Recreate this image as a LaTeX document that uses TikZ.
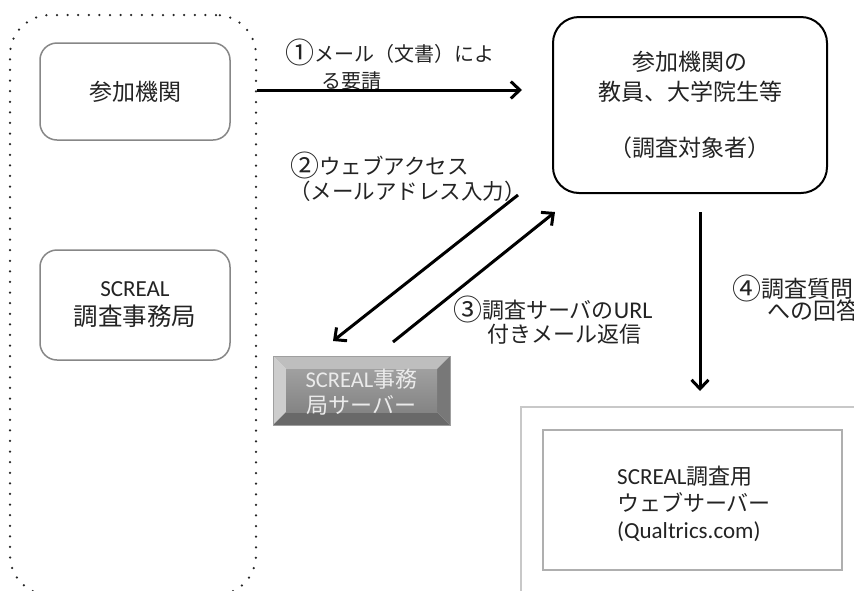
\documentclass[tikz,border=0pt]{standalone}
\usepackage{fontspec}
\setmainfont{Noto Sans CJK JP}
\newfontfamily\latf{Carlito}
\usetikzlibrary{arrows.meta}
\definecolor{txt}{RGB}{35,35,35}
\definecolor{boxgray}{RGB}{135,135,135}
\definecolor{webouter}{RGB}{200,200,200}
\definecolor{webinner}{RGB}{175,175,175}
\definecolor{bvtop}{RGB}{190,190,190}
\definecolor{bvleft}{RGB}{205,205,205}
\definecolor{bvright}{RGB}{120,120,120}
\definecolor{bvbot}{RGB}{105,105,105}
\definecolor{facetop}{RGB}{160,160,160}
\definecolor{facebot}{RGB}{132,132,132}
\newcommand\cnum[1]{\raisebox{-1.5pt}{\fontsize{29}{29}\selectfont #1}}
\tikzset{
  grpbox/.style={draw=black!85, line width=2.5pt, dash pattern=on 0pt off 10.6pt, line cap=round, rounded corners=40pt},
  orgbox/.style={draw=boxgray, line width=1.5pt, rounded corners=17pt, text=txt, align=center,
     font=\fontsize{23}{29}\selectfont},
  tgtbox/.style={draw=black, line width=2pt, rounded corners=26pt, text=txt, align=center,
     font=\fontsize{23}{30}\selectfont},
  lbl/.style={text=txt, anchor=west, inner sep=0pt, font=\fontsize{20.5}{25}\selectfont},
  arr/.style={line width=3pt, -{Straight Barb[length=9pt,width=17pt,line width=3pt]}},
}
\begin{document}
\begin{tikzpicture}[x=1pt,y=-1pt]
\useasboundingbox (0,0) rectangle (854,590);
\fill[white] (0,0) rectangle (854,590);

% dotted group
\node[grpbox, minimum width=246pt, minimum height=580pt] (grp) at (133,305) {};

% left boxes
\node[orgbox, minimum width=190pt, minimum height=97pt] (inst) at (135,91.5) {参加機関};
\node[orgbox, minimum width=190pt, minimum height=110pt, font=\fontsize{24.5}{29}\selectfont] (sec) at (135,305)
  {{\latf\fontsize{23}{29}\selectfont SCREAL}\\調査事務局};

% target box
\node[tgtbox, minimum width=274pt, minimum height=176pt] (tgt) at (690,105)
  {参加機関の\\教員、大学院生等\\[26pt]（調査対象者）};

% bevel server box
\fill[bvtop] (273,356) -- (450,356) -- (437,369) -- (286,369) -- cycle;
\fill[bvleft] (273,356) -- (286,369) -- (286,412) -- (273,425) -- cycle;
\fill[bvright] (450,356) -- (450,425) -- (437,412) -- (437,369) -- cycle;
\fill[bvbot] (273,425) -- (286,412) -- (437,412) -- (450,425) -- cycle;
\shade[top color=facetop, bottom color=facebot] (286,369) rectangle (437,412);
\draw[gray!75, line width=0.6pt] (273,356) rectangle (450,425);
\node[text=white!92!black, align=center, font=\fontsize{22}{26}\selectfont,
      minimum width=177pt, minimum height=69pt] (srv) at (361.5,392)
  {{\latf\fontsize{22.5}{26}\selectfont SCREAL}事務\\局サーバー};

% web server boxes
\draw[webouter, line width=1.5pt] (880,407) -- (521,407) -- (521,610);
\node[draw=webinner, line width=2pt, minimum width=299pt, minimum height=140pt] (web) at (692.5,500) {};
\node[text=txt, align=left, anchor=west, inner sep=0pt, font=\fontsize{22}{27}\selectfont] (webtxt) at (617,504)
  {{\latf\fontsize{23}{27}\selectfont SCREAL}調査用\\ウェブサーバー\\{\latf\fontsize{23}{31}\selectfont (Qualtrics.com)}};

% labels
\node[lbl, font=\fontsize{20}{25}\selectfont] (l1a) at (285,52) {\cnum{①}メール（文書）によ};
\node[lbl, font=\fontsize{20}{25}\selectfont] (l1b) at (321,81) {る要請};
\node[lbl, font=\fontsize{21.5}{25}\selectfont] (l2a) at (290,165) {\cnum{②}ウェブアクセス};
\node[lbl, font=\fontsize{21.5}{25}\selectfont] (l2b) at (289,191) {（メールアドレス入力）};
\node[lbl, font=\fontsize{22}{25}\selectfont] (l3a) at (453,309) {\cnum{③}調査サーバの{\latf\fontsize{24}{25}\selectfont URL}};
\node[lbl, font=\fontsize{22}{25}\selectfont] (l3b) at (487,334) {付きメール返信};
\node[lbl, font=\fontsize{23}{25}\selectfont] (l4a) at (732,288) {\cnum{④}調査質問};
\node[lbl, font=\fontsize{23}{25}\selectfont] (l4b) at (767,311) {への回答};

% connectors
\coordinate (a1s) at (grp.east |- 0,90);
\coordinate (a1e) at (522,90);
\draw[arr] (a1s) -- (a1e);
\coordinate (a2s) at (518,195);
\coordinate (a2e) at (333,341);
\draw[arr] (a2s) -- (a2e);
\coordinate (a3s) at (393,342);
\coordinate (a3e) at (555,212);
\draw[arr] (a3s) -- (a3e);
\coordinate (a4s) at (700,212);
\coordinate (a4e) at (700,391);
\draw[arr] (a4s) -- (a4e);
\end{tikzpicture}
\end{document}
